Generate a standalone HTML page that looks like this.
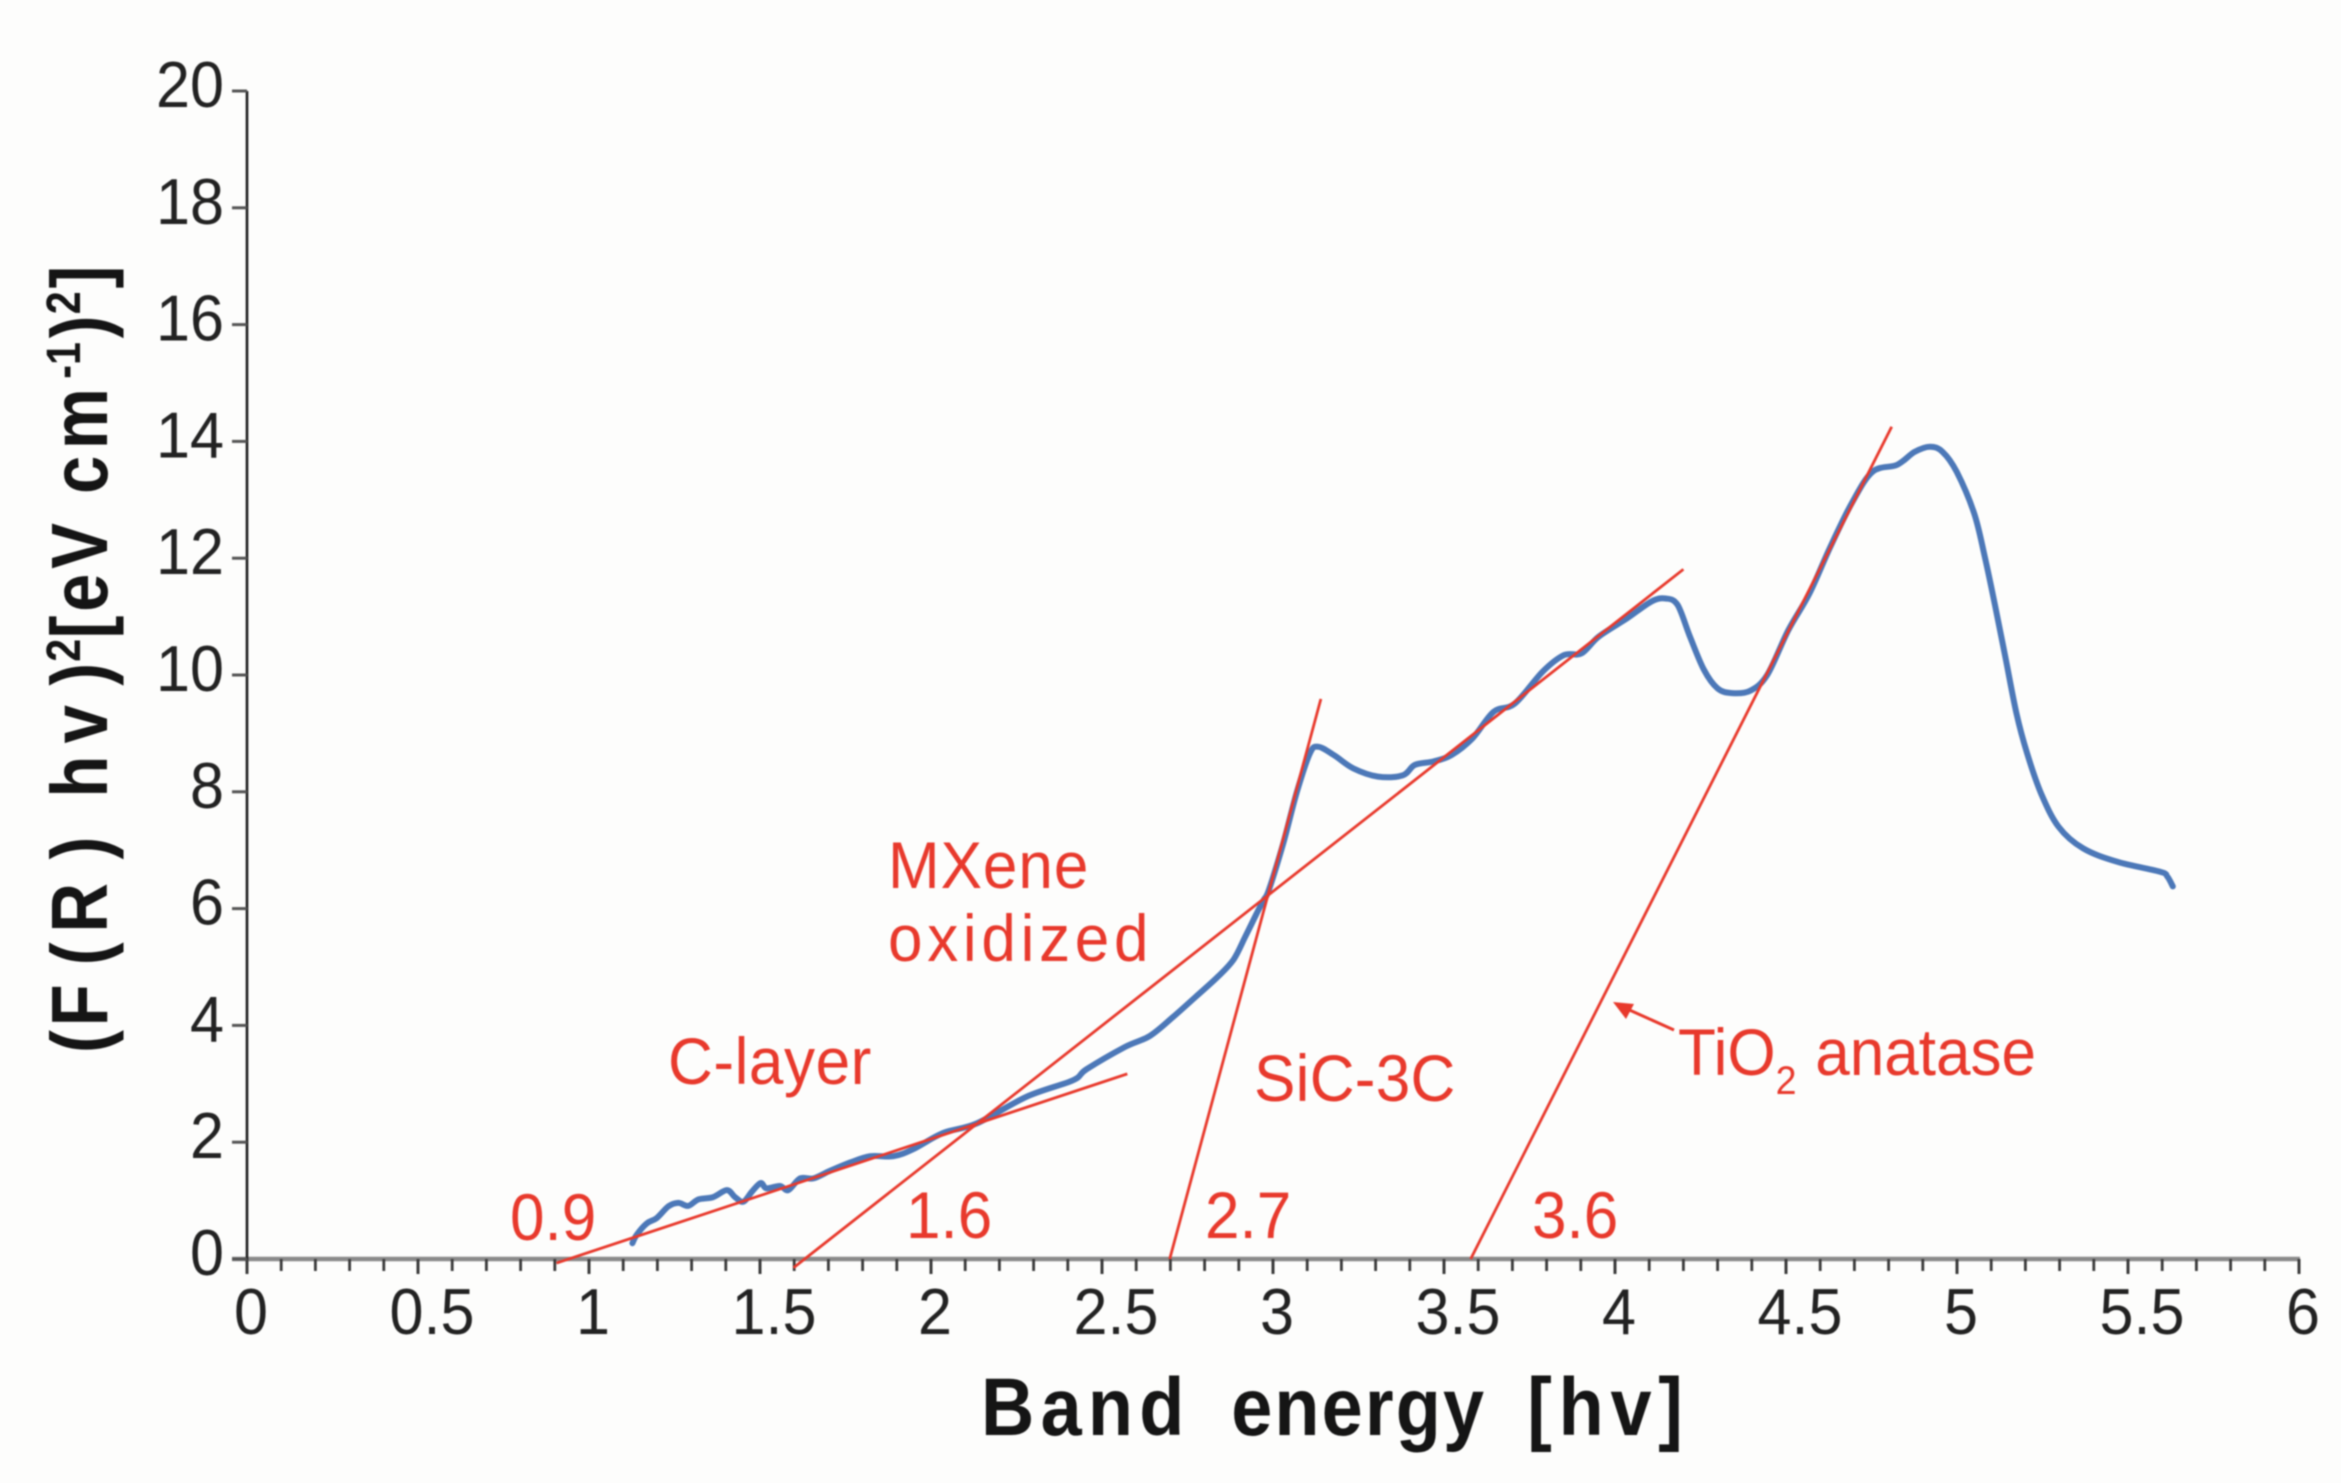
<!DOCTYPE html>
<html lang="en">
<head>
<meta charset="utf-8">
<title>Band energy chart</title>
<style>
html,body{margin:0;padding:0;background:#fdfdfc;}
svg{display:block;filter:blur(0.7px);}
text{font-family:"Liberation Sans",sans-serif;}
.red{fill:#e8392c;font-size:66px;}
</style>
</head>
<body>
<svg id="chart" xmlns="http://www.w3.org/2000/svg" width="2341" height="1483" viewBox="0 0 2341 1483">
  <rect x="0" y="0" width="2341" height="1483" fill="#fdfdfc"/>
  <g id="axes"></g>
  <g id="series"></g>

  <g transform="translate(0,1435) scale(0.9,1)">
    <text y="0" font-size="82" font-weight="bold" fill="#151515"><tspan x="1090" letter-spacing="7">Band</tspan><tspan x="1368" letter-spacing="2.4">energy</tspan><tspan x="1697" letter-spacing="7.5">[hv]</tspan></text>
  </g>

  <g transform="translate(107,1053) rotate(-90) scale(0.86,1)">
    <text y="0" font-size="80" font-weight="bold" fill="#151515"><tspan x="0">(</tspan><tspan x="31">F</tspan><tspan x="102">(</tspan><tspan x="140">R</tspan><tspan x="225">)</tspan><tspan x="297">h</tspan><tspan x="360">v</tspan><tspan x="427">)</tspan><tspan x="455" y="-27" font-size="48" font-weight="bold">2</tspan><tspan x="482" y="0">[</tspan><tspan x="513">e</tspan><tspan x="563">V</tspan><tspan x="650">c</tspan><tspan x="702">m</tspan><tspan x="784" y="-27" font-size="48" font-weight="bold">-1</tspan><tspan x="831" y="0">)</tspan><tspan x="859" y="-27" font-size="48" font-weight="bold">2</tspan><tspan x="889" y="0">]</tspan></text>
  </g>

  <text class="red" transform="translate(510,1240) scale(0.94,1)">0.9</text>
  <text class="red" transform="translate(906,1238) scale(0.94,1)">1.6</text>
  <text class="red" transform="translate(1205,1238) scale(0.94,1)">2.7</text>
  <text class="red" transform="translate(1532,1238) scale(0.94,1)">3.6</text>
  <text class="red" transform="translate(668,1084) scale(0.94,1)" letter-spacing="0.6">C-layer</text>
  <text class="red" transform="translate(888,888) scale(0.94,1)" letter-spacing="1">MXene</text>
  <text class="red" transform="translate(888,961) scale(0.94,1)" letter-spacing="5">oxidized</text>
  <text class="red" transform="translate(1254,1101) scale(0.94,1)" letter-spacing="0.3">SiC-3C</text>
  <text class="red" transform="translate(1678,1075) scale(0.94,1)">TiO<tspan font-size="40" dy="19">2</tspan><tspan x="146" y="0">anatase</tspan></text>
  <g>
    <line x1="1674" y1="1030" x2="1625" y2="1008" stroke="#e8392c" stroke-width="3"/>
    <polygon points="1613,1002 1634,1004 1626,1019" fill="#e8392c"/>
  </g>
</svg>
<script>
const xTickLabels = ["0","0.5","1","1.5","2","2.5","3","3.5","4","4.5","5","5.5","6"];
const yTickLabels = ["0","2","4","6","8","10","12","14","16","18","20"];
const curveX = [1.127,1.139,1.169,1.198,1.232,1.261,1.29,1.32,1.363,1.403,1.427,1.451,1.476,1.502,1.519,1.558,1.583,1.617,1.656,1.705,1.763,1.822,1.89,1.948,2.036,2.133,2.28,2.415,2.455,2.567,2.64,2.707,2.774,2.84,2.885,2.918,2.95,2.973,2.988,3.03,3.07,3.108,3.133,3.18,3.235,3.307,3.379,3.415,3.47,3.522,3.584,3.645,3.707,3.789,3.851,3.902,3.953,4.035,4.107,4.148,4.183,4.219,4.26,4.30,4.342,4.395,4.445,4.507,4.569,4.63,4.692,4.753,4.825,4.876,4.921,4.958,4.999,5.05,5.081,5.112,5.143,5.174,5.205,5.246,5.297,5.369,5.47,5.594,5.615,5.631];
const curveY = [0.27,0.41,0.61,0.70,0.90,0.96,0.91,1.02,1.06,1.18,1.06,0.98,1.15,1.30,1.21,1.25,1.18,1.38,1.38,1.51,1.65,1.76,1.76,1.88,2.16,2.32,2.78,3.06,3.25,3.63,3.82,4.14,4.49,4.84,5.13,5.51,5.89,6.15,6.32,7.12,8.0,8.66,8.77,8.62,8.40,8.26,8.28,8.46,8.52,8.63,8.92,9.37,9.51,10.06,10.34,10.37,10.66,10.97,11.26,11.31,11.2,10.66,10.09,9.77,9.69,9.73,10.0,10.77,11.4,12.2,12.94,13.48,13.6,13.82,13.91,13.82,13.48,12.77,12.03,11.17,10.26,9.34,8.66,7.97,7.40,7.03,6.8,6.63,6.55,6.38];
const fitNames = ["c-layer-fit","mxene-fit","sic-3c-fit","tio2-fit"];
const fitX1 = [0.905,1.598,2.698,3.578];
const fitY1 = [-0.07,-0.15,0,0];
const fitX2 = [2.574,4.2,3.14,4.809];
const fitY2 = [3.17,11.81,9.59,14.25];

const NS = "http://www.w3.org/2000/svg";
const axes = document.getElementById("axes");
const series = document.getElementById("series");
const xPos = v => 247 + v * 342;
const yPos = v => 1259 - v * 58.4;

function mk(parent, tag, attrs){
  const el = document.createElementNS(NS, tag);
  for (const k in attrs) el.setAttribute(k, attrs[k]);
  parent.appendChild(el);
  return el;
}

const xAxisLine = mk(axes, "line", {x1:232, x2:xPos(6)+1, y1:yPos(0), y2:yPos(0), stroke:"#8a8a8a", "stroke-width":4.5});


const yAxisLine = mk(axes, "line", {x1:xPos(0), x2:xPos(0), y1:yPos(20), y2:yPos(0)+15, stroke:"#1c1c1c", "stroke-width":2.6});



for (let i = 0; i <= 60; i++) {
  const major = i % 5 === 0;
  const t = mk(axes, "line", {x1:xPos(i/10), x2:xPos(i/10), y1:yPos(0), y2:yPos(0)+(major?15:12), stroke:"#3a3a3a", "stroke-width":major?3:2.8});
  
  
}
xTickLabels.forEach(lbl => {
  const v = parseFloat(lbl);
  const half = lbl.indexOf(".") >= 0;
  const t = mk(axes, "text", {transform:"translate("+(xPos(v)+(half?14:4))+",1334) scale(0.94,1)", "text-anchor":"middle", "font-size":65, fill:"#222"});
  
  
  t.textContent = lbl;
});
yTickLabels.forEach(lbl => {
  const v = parseFloat(lbl);
  const tk = mk(axes, "line", {x1:xPos(0)-15, x2:xPos(0), y1:yPos(v), y2:yPos(v), stroke:"#555", "stroke-width":3});
  
  
  const t = mk(axes, "text", {transform:"translate(224,"+(yPos(v)+16)+") scale(0.94,1)", "text-anchor":"end", "font-size":65, fill:"#222"});
  
  
  t.textContent = lbl;
});

const px = curveX.map(xPos);
const py = curveY.map(yPos);
let d = "M" + px[0].toFixed(1) + " " + py[0].toFixed(1);
for (let i = 0; i < px.length - 1; i++) {
  const a = Math.max(i - 1, 0), b = Math.min(i + 2, px.length - 1);
  const c1x = px[i] + (px[i+1] - px[a]) / 6, c1y = py[i] + (py[i+1] - py[a]) / 6;
  const c2x = px[i+1] - (px[b] - px[i]) / 6, c2y = py[i+1] - (py[b] - py[i]) / 6;
  d += "C" + c1x.toFixed(1) + " " + c1y.toFixed(1) + " " + c2x.toFixed(1) + " " + c2y.toFixed(1) + " " + px[i+1].toFixed(1) + " " + py[i+1].toFixed(1);
}
const curve = mk(series, "path", {d:d, fill:"none", stroke:"#4c78b8", "stroke-width":6, "stroke-linejoin":"round", "stroke-linecap":"round"});



fitNames.forEach((name,i) => {
  const l = mk(series, "line", {x1:xPos(fitX1[i]), y1:yPos(fitY1[i]), x2:xPos(fitX2[i]), y2:yPos(fitY2[i]), stroke:"#e8392c", "stroke-width":2.8});
  
  
});
</script>
</body>
</html>
